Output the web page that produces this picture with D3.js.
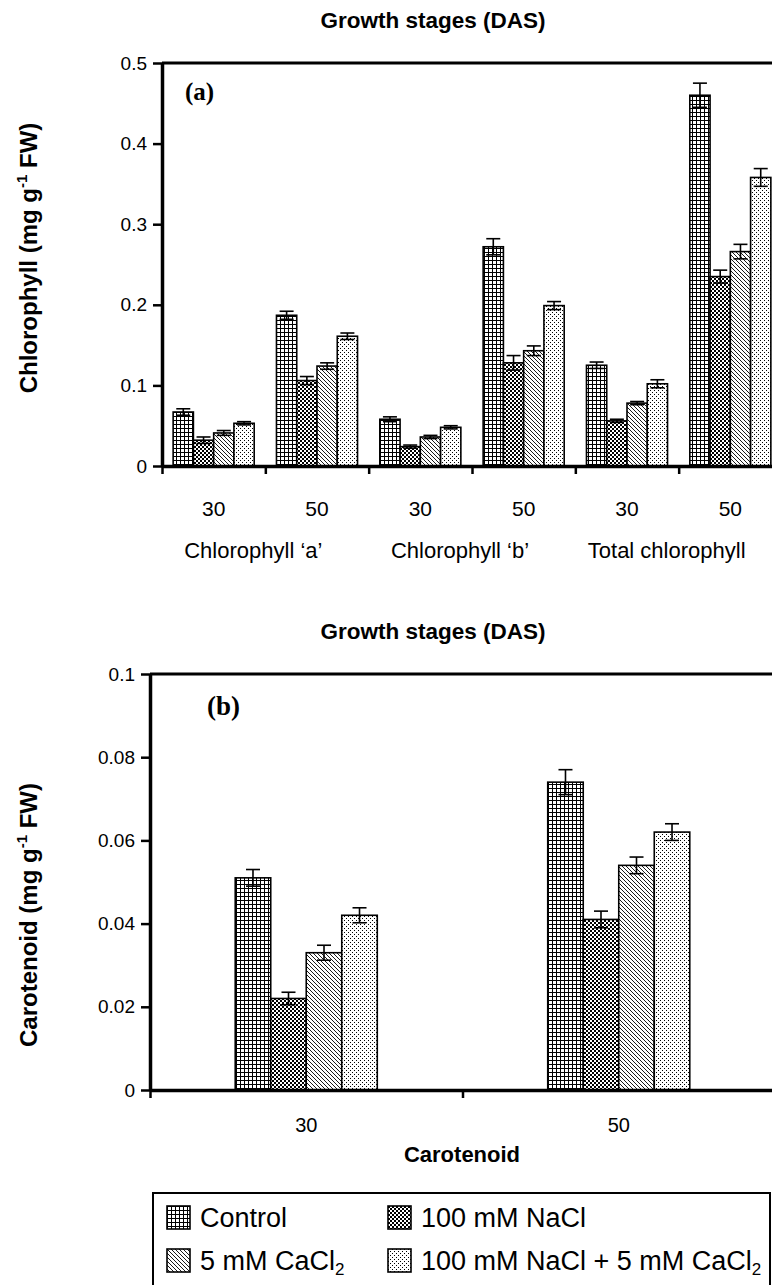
<!DOCTYPE html>
<html>
<head>
<meta charset="utf-8">
<script src="https://cdn.jsdelivr.net/npm/d3@7"></script>
<style>
  body { margin: 0; background: #fff; }
  svg { display: block; font-family: "Liberation Sans", Arial, sans-serif; }
</style>
</head>
<body>
<svg id="chart" width="772" height="1285"></svg>
<script>
// treatments (legend order) and their fill patterns
const treatments = ["Control", "100 mM NaCl", "5 mM CaCl", "100 mM NaCl + 5 mM CaCl"];
const treatmentSub = ["", "", "2", "2"];
const patternIds = ["pGrid", "pCheck", "pHatch", "pDots"];

// panel (a) chlorophyll, mg g-1 FW
const chlGroups = ["a30", "a50", "b30", "b50", "t30", "t50"];
const chlStages = ["30", "50", "30", "50", "30", "50"];
const chlPigments = ["Chlorophyll \u2018a\u2019", "Chlorophyll \u2018b\u2019", "Total chlorophyll"];
const chlControl = [0.067, 0.187, 0.058, 0.272, 0.125, 0.460];
const chlNaCl = [0.032, 0.106, 0.024, 0.128, 0.056, 0.235];
const chlCaCl2 = [0.041, 0.124, 0.036, 0.143, 0.078, 0.266];
const chlBoth = [0.053, 0.161, 0.048, 0.199, 0.102, 0.358];
const chlControlErr = [0.004, 0.005, 0.003, 0.010, 0.004, 0.015];
const chlNaClErr = [0.004, 0.005, 0.002, 0.009, 0.002, 0.008];
const chlCaCl2Err = [0.003, 0.004, 0.002, 0.006, 0.002, 0.009];
const chlBothErr = [0.002, 0.004, 0.002, 0.005, 0.005, 0.011];
const chlTicks = [0, 0.1, 0.2, 0.3, 0.4, 0.5];

// panel (b) carotenoid, mg g-1 FW
const carGroups = ["30", "50"];
const carControl = [0.051, 0.074];
const carNaCl = [0.022, 0.041];
const carCaCl2 = [0.033, 0.054];
const carBoth = [0.042, 0.062];
const carControlErr = [0.002, 0.003];
const carNaClErr = [0.0015, 0.002];
const carCaCl2Err = [0.0018, 0.002];
const carBothErr = [0.0018, 0.002];
const carTicks = [0, 0.02, 0.04, 0.06, 0.08, 0.1];

const svg = d3.select("#chart");
svg.append("rect").attr("width", 772).attr("height", 1285).attr("fill", "#fff");

// hatch patterns
const defs = svg.append("defs");
function pattern(id) {
  const p = defs.append("pattern").attr("id", id)
    .attr("patternUnits", "userSpaceOnUse").attr("width", 4).attr("height", 4);
  p.append("rect").attr("width", 4).attr("height", 4).attr("fill", "#fff");
  return p;
}
pattern("pGrid").append("path").attr("d", "M0,0.5H4M0.5,0V4")
  .attr("stroke", "#000").attr("stroke-width", 1);
const pc = pattern("pCheck");
pc.append("rect").attr("width", 2).attr("height", 2).attr("fill", "#000");
pc.append("rect").attr("x", 2).attr("y", 2).attr("width", 2).attr("height", 2).attr("fill", "#000");
pattern("pHatch").append("path").attr("d", "M0,0L4,4M-1,3L1,5M3,-1L5,1")
  .attr("stroke", "#000").attr("stroke-width", 0.9);
const pd = pattern("pDots");
pd.append("rect").attr("width", 1).attr("height", 1).attr("fill", "#000");
pd.append("rect").attr("x", 2).attr("y", 2).attr("width", 1).attr("height", 1).attr("fill", "#000");

const fmt = d => (d === 0 ? "0" : String(+d.toFixed(2)));

function drawPanel(o) {
  const g = svg.append("g");
  const y = d3.scaleLinear().domain([0, o.yMax]).range([o.bottom, o.top]);
  const x0 = d3.scaleBand().domain(o.groups).range([o.left, o.right]);
  const x1 = d3.scaleBand().domain(treatments).range([0, x0.bandwidth()])
    .paddingOuter(o.pad);
  const xb = d3.scaleLinear().domain([0, o.groups.length]).range([o.left, o.right]);

  const rows = [];
  o.groups.forEach((grp, i) => {
    treatments.forEach((t, k) => {
      rows.push({ grp: grp, t: t, k: k, v: o.values[k][i], e: o.errors[k][i] });
    });
  });

  g.append("g").selectAll("rect").data(rows).join("rect")
    .attr("x", d => x0(d.grp) + x1(d.t))
    .attr("y", d => y(d.v))
    .attr("width", x1.bandwidth())
    .attr("height", d => y(0) - y(d.v))
    .attr("fill", d => "url(#" + patternIds[d.k] + ")")
    .attr("stroke", "#000").attr("stroke-width", 1.6);

  const eb = g.append("g").attr("stroke", "#000").attr("stroke-width", 1.6)
    .selectAll("g").data(rows).join("g")
    .attr("transform", d => "translate(" + (x0(d.grp) + x1(d.t) + x1.bandwidth() / 2) + ",0)");
  eb.append("line").attr("y1", d => y(d.v - d.e)).attr("y2", d => y(d.v + d.e));
  eb.append("line").attr("x1", -7).attr("x2", 7)
    .attr("y1", d => y(d.v + d.e)).attr("y2", d => y(d.v + d.e));
  eb.append("line").attr("x1", -7).attr("x2", 7)
    .attr("y1", d => y(d.v - d.e)).attr("y2", d => y(d.v - d.e));

  // top frame line
  g.append("line").attr("x1", o.left).attr("x2", 772)
    .attr("y1", y(o.yMax)).attr("y2", y(o.yMax))
    .attr("stroke", "#000").attr("stroke-width", 3);

  const ya = g.append("g").attr("transform", "translate(" + o.left + ",0)")
    .call(d3.axisLeft(y).tickValues(o.ticks).tickFormat(fmt).tickSize(9).tickSizeOuter(0).tickPadding(6));
  ya.select(".domain").attr("stroke-width", 3.5);
  ya.selectAll(".tick line").attr("stroke-width", 2.5);
  ya.selectAll(".tick text").attr("font-size", 19).attr("font-family", "Liberation Sans, Arial, sans-serif")
    .attr("fill", "#000");

  const xa = g.append("g").attr("transform", "translate(0," + o.bottom + ")")
    .call(d3.axisBottom(xb).tickValues(d3.range(o.groups.length + 1)).tickFormat("").tickSize(8).tickSizeOuter(0));
  xa.select(".domain").attr("stroke-width", 3.5);
  xa.selectAll(".tick line").attr("stroke-width", 2.5);

  g.append("g").selectAll("text").data(o.groups).join("text")
    .attr("x", d => x0(d) + x0.bandwidth() / 2)
    .attr("y", o.stageY)
    .attr("text-anchor", "middle").attr("font-size", o.stageSize)
    .text((d, i) => o.stageLabels[i]);

  // panel letter
  g.append("text").attr("x", o.letterX).attr("y", o.letterY)
    .attr("font-family", "Liberation Serif, Times New Roman, serif")
    .attr("font-weight", "bold").attr("font-size", o.letterSize).text(o.letter);

  // x title on top
  g.append("text").attr("x", 433).attr("y", o.titleY).attr("text-anchor", "middle")
    .attr("font-weight", "bold").attr("font-size", 22.5).text("Growth stages (DAS)");

  // y title
  const yt = g.append("text")
    .attr("transform", "translate(" + o.yTitleX + "," + o.yTitleMid + ") rotate(-90)")
    .attr("text-anchor", "middle").attr("font-weight", "bold").attr("font-size", 24);
  yt.append("tspan").text(o.yTitle + " (mg g");
  yt.append("tspan").attr("font-size", 15).attr("dy", -10).text("-1");
  yt.append("tspan").attr("dy", 10).text(" FW)");

  return { x0: x0 };
}

const pa = drawPanel({
  groups: chlGroups, stageLabels: chlStages,
  values: [chlControl, chlNaCl, chlCaCl2, chlBoth],
  errors: [chlControlErr, chlNaClErr, chlCaCl2Err, chlBothErr],
  yMax: 0.5, ticks: chlTicks,
  left: 162, right: 782, top: 63, bottom: 466, pad: 0.55,
  stageY: 516, stageSize: 21,
  letter: "(a)", letterX: 185, letterY: 100, letterSize: 25,
  titleY: 28, yTitle: "Chlorophyll", yTitleX: 37, yTitleMid: 258
});

// pigment names under pairs of stages
svg.append("g").selectAll("text").data(chlPigments).join("text")
  .attr("x", (d, i) => pa.x0(chlGroups[2 * i]) + pa.x0.bandwidth() - 12)
  .attr("y", 558).attr("text-anchor", "middle").attr("font-size", 22)
  .text(d => d);

drawPanel({
  groups: carGroups, stageLabels: carGroups,
  values: [carControl, carNaCl, carCaCl2, carBoth],
  errors: [carControlErr, carNaClErr, carCaCl2Err, carBothErr],
  yMax: 0.1, ticks: carTicks,
  left: 150, right: 775, top: 674, bottom: 1090, pad: 2.4,
  stageY: 1132, stageSize: 20,
  letter: "(b)", letterX: 207, letterY: 715, letterSize: 27,
  titleY: 639, yTitle: "Carotenoid", yTitleX: 37, yTitleMid: 915
});

svg.append("text").attr("x", 462).attr("y", 1162).attr("text-anchor", "middle")
  .attr("font-weight", "bold").attr("font-size", 22).text("Carotenoid");

// legend
const lg = svg.append("g");
lg.append("rect").attr("x", 153).attr("y", 1193).attr("width", 617).attr("height", 100)
  .attr("fill", "none").attr("stroke", "#000").attr("stroke-width", 2);
const legX = [167, 388];
const legY = [1206, 1249];
const items = lg.selectAll("g.item").data(treatments).join("g").attr("class", "item")
  .attr("transform", (d, i) => "translate(" + legX[i % 2] + "," + legY[Math.floor(i / 2)] + ")");
items.append("rect").attr("width", 23).attr("height", 23)
  .attr("fill", (d, i) => "url(#" + patternIds[i] + ")")
  .attr("stroke", "#000").attr("stroke-width", 1.6);
const lt = items.append("text").attr("x", 33).attr("y", 21).attr("font-size", 27);
lt.append("tspan").text(d => d);
lt.append("tspan").attr("font-size", 17).attr("dy", 5).text((d, i) => treatmentSub[i]);
</script>
</body>
</html>
